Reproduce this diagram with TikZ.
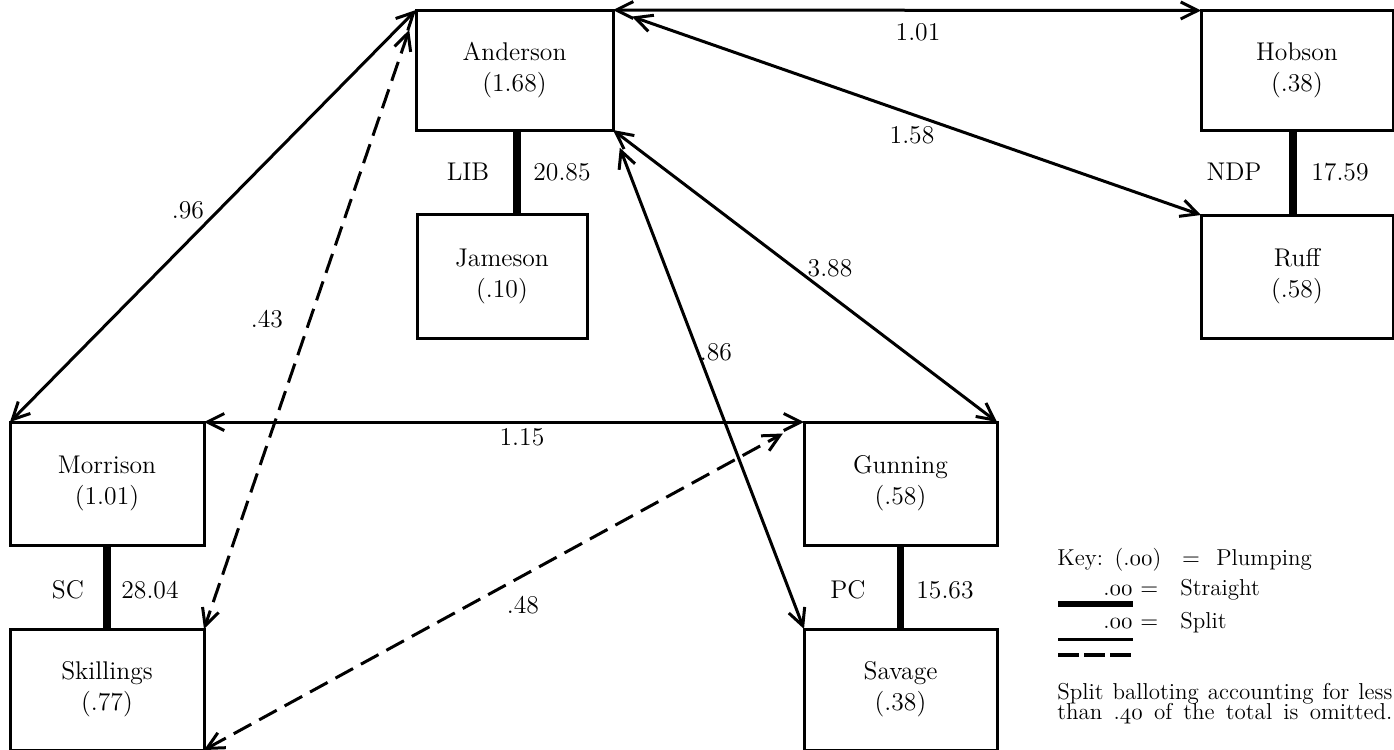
\RequirePackage{fix-cm}
\documentclass[tikz,border=0pt]{standalone}
\usetikzlibrary{arrows.meta}
\begin{document}
\begin{tikzpicture}[x=0.5pt,y=-0.5pt,
  font=\fontsize{12.8}{15.5}\selectfont,
  >={Straight Barb[length=8.5pt,width=8.5pt]},
  cand/.style={draw, line width=1.5pt, align=center, inner sep=0pt, outer sep=0pt},
  link/.style={line width=1.5pt, <->},
  splitlink/.style={link, dash pattern=on 10pt off 4.5pt},
  tie/.style={line width=3.6pt},
  lbl/.style={inner sep=1pt},
  keytxt/.style={inner sep=0pt, anchor=base west, font=\fontsize{11.5}{13}\selectfont},
  keyline/.style={line width=1.5pt}]
\useasboundingbox (0,0) rectangle (1394,750);

% candidates
\node[cand, minimum width=98.5pt, minimum height=60pt] (A) at (514.5,70) {Anderson\\(1.68)};
\node[cand, minimum width=85pt, minimum height=62pt] (J) at (502,276) {Jameson\\(.10)};
\node[cand, minimum width=96pt, minimum height=60pt] (H) at (1297,70.5) {Hobson\\(.38)};
\node[cand, minimum width=96pt, minimum height=61.5pt] (R) at (1297,276.5) {Ruff\\(.58)};
\node[cand, minimum width=97pt, minimum height=61.5pt] (M) at (107,483.5) {Morrison\\(1.01)};
\node[cand, minimum width=97pt, minimum height=60.5pt] (S) at (107,689.5) {Skillings\\(.77)};
\node[cand, minimum width=96.5pt, minimum height=61.5pt] (G) at (900.5,483.5) {Gunning\\(.58)};
\node[cand, minimum width=96.5pt, minimum height=60.5pt] (V) at (900.5,689.5) {Savage\\(.38)};

% straight ties
\draw[tie] ([xshift=1.25pt]A.south) -- ([xshift=1.25pt]A.south |- J.north);
\draw[tie] ([xshift=-2pt]H.south) -- ([xshift=-2pt]R.north);
\draw[tie] (M.south) -- (S.north);
\draw[tie] (G.south) -- (V.north);

\node[lbl] (pLIB) at (468,172) {LIB};
\node[lbl] (vLIB) at (562,172) {20.85};
\node[lbl] (pNDP) at (1234,172) {NDP};
\node[lbl] (vNDP) at (1340,172) {17.59};
\node[lbl] (pSC) at (68,590) {SC};
\node[lbl] (vSC) at (150,590) {28.04};
\node[lbl] (pPC) at (848,590) {PC};
\node[lbl] (vPC) at (945,590) {15.63};

% links
\draw[link] (A.north east) -- (H.north west);
\draw[link, shorten <=10pt] (A.north east) -- (R.north west);
\draw[link] (A.south east) -- (G.north east);
\draw[link, shorten <=9.5pt] (A.south east) -- (V.north west);
\draw[link] (A.north west) -- (M.north west);
\draw[splitlink, shorten <=10.5pt] (A.north west) -- (S.north east);
\draw[link] (M.north east) -- (G.north west);
\draw[splitlink, shorten >=12pt] (S.south east) -- (G.north west);

\node[lbl] (l101) at (918,32) {1.01};
\node[lbl] (l158) at (912,135) {1.58};
\node[lbl] (l388) at (830,268) {3.88};
\node[lbl] (l86) at (716,352) {.86};
\node[lbl] (l96) at (188,210) {.96};
\node[lbl] (l43) at (267,319) {.43};
\node[lbl] (l115) at (522,437) {1.15};
\node[lbl] (l48) at (523,605) {.48};

% key
\node[keytxt] (k1) at (1057,565) {Key:};
\node[keytxt, anchor=base] (k2) at (1138,565) {(.$\mathnormal{00}$)};
\node[keytxt, anchor=base] (k3) at (1191,565) {$=$};
\node[keytxt] (k4) at (1216,565) {Plumping};
\node[keytxt, anchor=base east] (s1) at (1133,595) {.$\mathnormal{00}$};
\node[keytxt] (s2) at (1140,595) {$=$};
\node[keytxt] (s3) at (1180,595) {Straight};
\node[keytxt, anchor=base east] (t1) at (1133,628) {.$\mathnormal{00}$};
\node[keytxt] (t2) at (1140,628) {$=$};
\node[keytxt] (t3) at (1180,628) {Split};
\draw[line width=3.4pt] (1058,604) -- (1133,604);
\draw[keyline] (1058,639) -- (1133,639);
\draw[line width=1.8pt, dash pattern=on 10.5pt off 2.5pt] (1058,655) -- (1133,655);

\node[keytxt] (n1) at (1057,699) {\makebox[167.5pt][s]{Split balloting accounting for less}};
\node[keytxt] (n2) at (1057,719) {\makebox[167.5pt][s]{than .$\mathnormal{40}$ of the total is omitted.}};
\end{tikzpicture}
\end{document}
